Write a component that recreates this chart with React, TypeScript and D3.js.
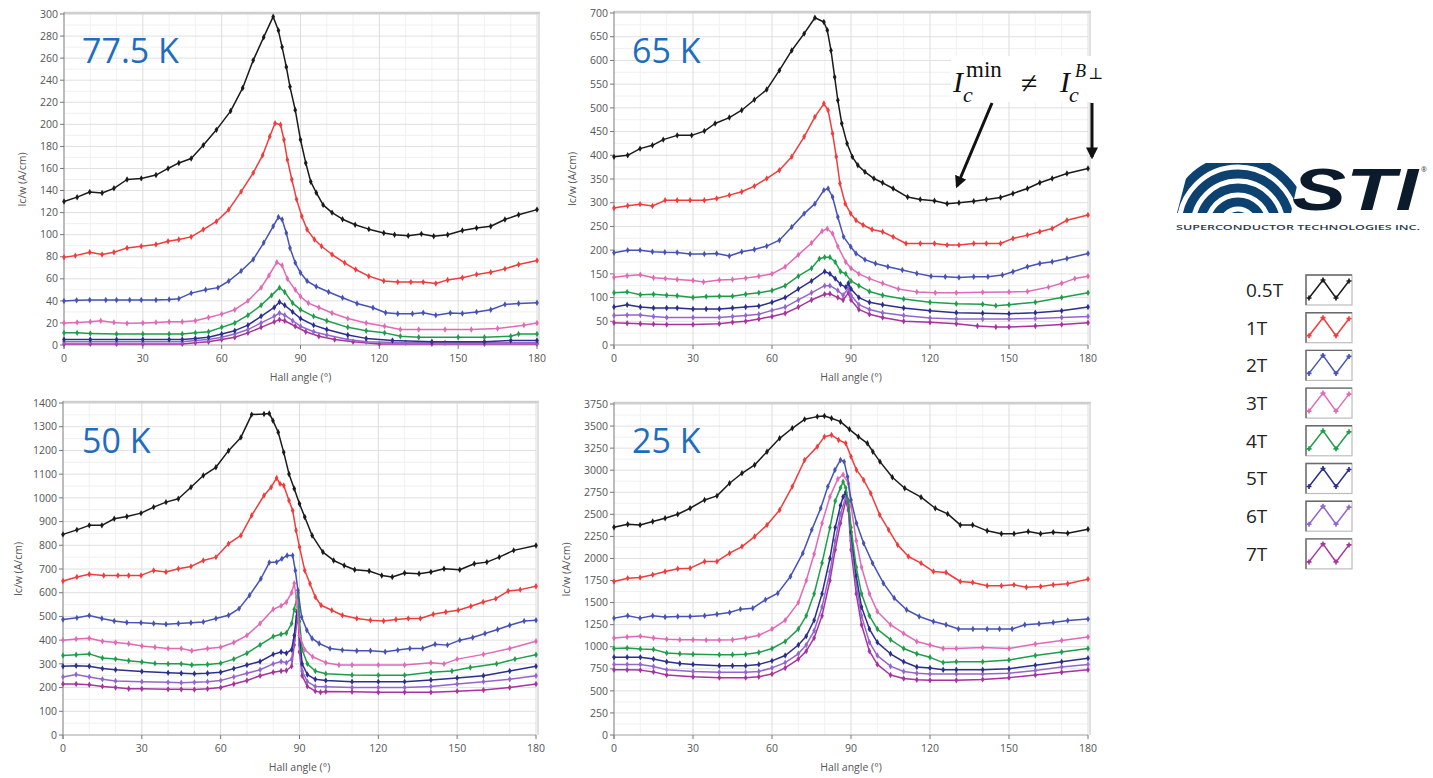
import React from 'react';
import * as d3 from 'd3';

type Pt = [number, number];

const FIELDS = ['0.5T', '1T', '2T', '3T', '4T', '5T', '6T', '7T'];
const COLORS = ['#1a1a1a', '#f03c3c', '#4652b4', '#e06ab6', '#1f9e4a', '#2c2f8c', '#9466cc', '#a8329e'];
const X_TICKS = [0, 30, 60, 90, 120, 150, 180];
const TITLES = ['77.5 K', '65 K', '50 K', '25 K'];
const Y_MAX = [300, 700, 1400, 3750];
const Y_STEP = [20, 50, 100, 250];

// ---------- 77.5 K ----------
const K77_05: Pt[] = [[0,130],[5,134],[9.8,138.7],[14.5,137.8],[19,142],[24,150],[29.4,151],[35,154],[39.6,160],[43.7,165],[48.4,169],[53,181],[58,195],[63.4,212],[68,233],[72,258],[76,279],[79.6,297.6],[81.6,285],[83,270],[84.6,252],[86,234],[88,213],[90,186],[92,165],[93.9,148],[96,138],[98.6,127],[102,120],[106,114],[110.8,109],[116,105],[121.7,101.6],[125.8,100],[131,99],[136,100.7],[140.7,98.6],[146,100],[151.6,103.7],[157,106],[162.4,107.6],[167.8,113.7],[173,118],[180,122.7]];
const K77_1: Pt[] = [[0,79.6],[4.3,81],[9.8,84],[14.5,82],[19,84],[24,88],[29.4,89.5],[35,91],[39.6,94],[43.7,95.6],[48.4,98],[53,104.6],[58,112],[62.7,122.7],[67.4,139],[72,156],[75.6,172],[78.3,189],[80.3,201],[82.4,199.6],[83.7,186],[85,168],[86.7,150],[88.5,132],[90.5,116.7],[92.5,104.6],[95.3,95.6],[98,89.5],[102,82],[106.8,74.5],[111,68.4],[116,62.4],[121.7,58],[127,57],[132,57],[136.7,57],[141.5,55.8],[146,59],[151.6,61],[157,64],[162.4,66],[167.8,69],[173,73],[180,76.6]];
const K77_2: Pt[] = [[0,39.8],[4.8,40.5],[9.8,40.7],[15.9,40.7],[20,40.7],[25,40.7],[29.4,40.7],[35,40.7],[40,41.3],[43.7,42],[48.4,47],[53.9,50],[58.6,52],[62.7,58],[67.4,67],[72,77.5],[76,92.6],[79.6,107.6],[81.6,116],[83,113.7],[84.6,101.6],[86,88],[88,74.5],[90,65.4],[92.5,58],[96,53],[100.7,48],[106,42.8],[111.5,37.7],[117.6,33.8],[122.4,29.2],[127,28.3],[132.6,28.3],[136.7,29.2],[141.5,27],[147,29],[151.6,28.6],[157,30],[162.4,32],[167.8,36.8],[173,37.7],[180,38.3]];
const K77_3: Pt[] = [[0,20],[5,20.5],[10,21],[14,22],[19,20.5],[24,19.6],[30,20],[35,20.5],[40,21],[45,21],[50,22],[55,25],[60,28],[65,32],[70,40],[75,52],[78,63],[81,75],[83,72],[85,60],[88,50],[90,44],[93,38],[97,34],[102,29],[108,24],[115,20],[122,17],[128,14],[135,14],[145,14],[155,14],[165,15],[175,18],[180,20]];
const K77_4: Pt[] = [[0,11],[5,11],[10,10.5],[20,10],[30,10],[40,10],[45,10],[50,11],[55,12],[60,16],[65,20],[70,27],[75,36],[79,45],[82,52],[84,48],[87,38],[90,32],[95,26],[100,22],[108,16],[115,13],[122,11],[128,8],[135,7],[150,7],[160,7],[170,8],[173,10],[180,10]];
const K77_5: Pt[] = [[0,5],[10,5],[20,5],[30,5],[40,5],[45,5],[50,6],[55,7],[60,10],[65,13],[70,18],[75,26],[80,34],[82,39],[84,36],[87,30],[90,24],[95,18],[100,14],[108,9],[115,6],[125,4],[140,3],[160,3],[170,4],[180,4]];
const K77_6: Pt[] = [[0,3],[10,3],[20,3],[30,3],[45,3],[50,4],[55,5],[60,7],[65,10],[70,14],[75,20],[80,26],[82,29],[84,27],[87,22],[90,17],[95,12],[100,9],[108,5],[115,3],[130,2],[145,2],[160,2],[180,2]];
const K77_7: Pt[] = [[0,1],[10,1],[20,1],[30,1],[45,1],[50,2],[55,3],[60,5],[65,7],[70,11],[75,16],[80,21],[82,23],[84,22],[88,17],[92,12],[97,8],[103,5],[110,3],[120,1],[140,1],[160,1],[180,1]];

// ---------- 65 K ----------
const K65_05: Pt[] = [[0,396.7],[5.2,400],[9.9,414],[14.6,421],[18.7,433],[24,442],[29.5,442],[34.3,451],[38.4,467],[43.8,479.5],[48.5,495],[53.3,517],[58,538.5],[62.8,579],[67.5,621],[72.2,656.5],[76.3,690],[79.7,681],[81,663.5],[82.4,621],[83.8,565],[85,516],[86.5,467],[88.5,425],[90.5,396.7],[92.6,379],[95.3,365],[98.7,351],[102,342],[106,330],[111.5,312],[116.3,307],[121.7,304],[126.5,298],[131,300],[136.6,303],[141.4,307],[146.8,311],[151.5,319.5],[157,330],[161.7,342],[166.4,351],[172,361.6],[180,372]];
const K65_1: Pt[] = [[0,289],[5.2,293.5],[9.9,297],[14.6,293],[19.4,305],[24,305],[28.9,305],[34.3,305],[39,309],[43.8,316],[48.5,323],[53.3,335],[58,351],[62.8,368.6],[67.5,397],[72.2,439],[76.3,481],[79.7,509],[81.3,495],[83,446],[84.4,397],[85.8,340.5],[87.8,298],[89.9,277],[91.9,263],[94.6,253],[98,243.6],[102,238.7],[106,228],[110.9,214],[116.3,214],[121.7,214],[126.5,210.6],[131,210.6],[136.6,214],[141.4,214],[146.8,214],[151.5,224.7],[157,231.7],[161.7,238.7],[166.4,245.7],[172,263],[180,274]];
const K65_2: Pt[] = [[0,194.5],[5.2,200],[9.9,200],[14.6,196.6],[19.3,195.5],[24,195],[28.9,191.7],[34.3,191.7],[39,193],[43.8,187.5],[48.5,196.6],[53.3,201.5],[58,208.5],[62.8,221],[67.5,249],[72.2,277],[76.3,298],[79.7,326.5],[81.3,330],[83,312],[85,270],[87.2,228],[89.9,207],[91.9,193],[95.3,180],[99.3,172],[104,165],[109.5,158],[115,151],[120.4,145],[125.8,144],[131,142.5],[136.6,144],[142,144],[147.5,147.4],[151.5,154.5],[157,165],[161.7,172],[166.4,175.5],[172,182.5],[180,193]];
const K65_3: Pt[] = [[0,143],[5,146],[10,148],[15,142],[19.5,140],[24,138],[30,136],[34,133],[40,137],[45,138],[50,141],[55,145],[60,150],[65,165],[70,190],[75,215],[79,240],[81,245],[83,235],[85,208],[88,175],[90,162],[93,150],[97,140],[102,130],[108,118],[115,112],[122,110],[130,110],[140,111],[150,112],[157,113],[165,122],[170,130],[175,140],[180,145]];
const K65_4: Pt[] = [[0,110],[5,112],[10,106],[15,107],[20,105],[24,104],[30,100],[35,102],[40,103],[45,103],[50,107],[55,110],[60,115],[65,125],[70,145],[75,162],[78,182],[80,185],[82,185],[84,175],[86,155],[88,150],[90,135],[93,125],[97,113],[102,105],[110,97],[120,90],[130,87],[140,86],[145,83],[150,85],[160,90],[170,100],[180,110]];
const K65_5: Pt[] = [[0,80],[5,85],[10,80],[15,78],[20,78],[24,78],[30,76],[35,76],[40,76],[45,78],[50,80],[55,82],[60,90],[65,100],[70,118],[75,135],[80,155],[82,150],[84,140],[86,128],[88,122],[89,130],[90,118],[93,100],[97,90],[102,85],[110,78],[120,72],[130,68],[140,67],[150,66],[160,68],[170,72],[180,80]];
const K65_6: Pt[] = [[0,62],[5,63],[10,63],[15,60],[20,58],[30,58],[40,58],[45,60],[50,62],[55,65],[60,73],[65,80],[70,95],[75,110],[80,125],[82,125],[85,115],[87,105],[89,120],[90,105],[93,85],[97,75],[102,68],[110,62],[120,57],[130,55],[140,55],[150,55],[160,56],[170,58],[180,60]];
const K65_7: Pt[] = [[0,47],[5,46],[10,45],[15,44],[20,43],[30,43],[40,45],[45,48],[50,50],[55,55],[60,60],[65,67],[70,80],[75,95],[80,107],[82,108],[85,100],[87,95],[89,110],[90,95],[93,75],[97,65],[102,58],[110,50],[120,48],[130,45],[138,40],[145,38],[150,38],[160,40],[170,43],[180,47]];

// ---------- 50 K ----------
const K50_05: Pt[] = [[0,846],[5.3,865],[10,884],[14.8,884],[19.5,912],[24.3,921.6],[29.7,935.6],[34.5,961],[39.2,982],[43.9,996],[48.7,1045],[53.4,1094],[58.2,1129],[63,1199],[67.7,1255],[71.8,1351],[76.5,1354],[78.5,1356],[79.9,1325.6],[81.9,1276.5],[84,1192],[86,1101],[88,1038],[90,975],[92,919],[94.8,841.6],[98.9,771.5],[103,736],[107,715],[111,697],[116.5,691.5],[121.3,673],[125.3,666],[130,683],[135.5,680],[140,687],[145,701],[151,697],[156.5,722],[161.3,729],[166,750],[171.5,778.5],[180,799.5]];
const K50_1: Pt[] = [[0,649],[5.3,666],[10,677.5],[15.5,673],[20.9,673],[25,673],[29.7,673],[34.5,694],[39.2,687],[43.9,701],[48.7,711],[53.4,736],[58.2,750],[63,806.6],[67.7,841.6],[71.8,925.8],[76.5,1010],[79.2,1045],[81.3,1084],[82.6,1059],[84,1052],[86,989],[87.4,947],[88.7,862.6],[90,792.5],[92,694],[94,638],[96,582],[98.2,547],[102.3,526],[106.3,505],[111.8,491],[117,484],[122,481],[126.7,487],[131.4,491],[136,491],[140.9,509],[145.7,519],[150.4,526],[155.2,543],[159.9,561],[164.7,575],[169.4,607],[174,613],[180,627]];
const K50_2: Pt[] = [[0,487],[5.3,494],[10,503.6],[14.8,491],[19.5,481],[24.3,474],[29.7,473],[34.5,470],[39.2,467],[43.9,470],[48.7,473],[53.4,477],[58.2,491],[63,505],[67,533],[71,589],[75.3,659],[78.5,727],[81.3,729],[83.3,743],[85.3,757],[87.4,757],[88.4,694],[89.4,610],[90.8,498],[92.8,442],[94.8,407],[97.5,386],[101.6,365],[106.3,358],[111.8,355],[117,355],[122.6,351],[127.4,358],[132,365],[136.9,365],[141.6,383],[146.3,379],[151,400],[155.9,411],[160.6,428],[165.4,445],[170,463],[175.5,481],[180,484]];
const K50_3: Pt[] = [[0,400],[5,405],[10,408],[15,395],[20,390],[25,385],[30,375],[35,370],[40,365],[45,365],[49,355],[55,365],[60,370],[65,390],[70,420],[75,470],[80,530],[83,545],[85,560],[87,600],[88,640],[89,560],[90,420],[92,360],[95,330],[100,305],[105,295],[110,295],[120,295],[130,295],[140,305],[145,300],[150,320],[160,340],[170,365],[180,395]];
const K50_4: Pt[] = [[0,335],[5,338],[10,342],[15,325],[20,320],[25,313],[30,308],[35,302],[40,300],[45,300],[49,295],[55,297],[60,303],[65,320],[70,345],[75,380],[80,415],[83,425],[85,430],[87,470],[88,530],[89,580],[89.5,600],[90,480],[91,360],[93,300],[96,270],[100,258],[110,253],[120,252],[130,252],[140,265],[148,270],[155,285],[165,300],[172,320],[180,338]];
const K50_5: Pt[] = [[0,290],[5,292],[10,290],[15,280],[20,275],[30,268],[40,262],[45,260],[50,258],[55,260],[60,265],[65,280],[70,295],[75,310],[80,340],[83,350],[85,345],[87,360],[88,420],[89,520],[89.5,540],[90,420],[91,300],[93,255],[96,235],[100,230],[110,225],[120,225],[130,225],[140,232],[150,240],[160,250],[170,270],[180,290]];
const K50_6: Pt[] = [[0,245],[5,255],[10,245],[15,235],[20,228],[30,225],[40,222],[45,220],[50,222],[55,225],[60,230],[65,245],[70,260],[75,275],[80,300],[83,310],[85,305],[87,320],[88,400],[89,500],[89.5,520],[90,380],[91,270],[93,225],[96,205],[100,203],[110,200],[120,200],[130,200],[140,205],[150,215],[160,225],[170,235],[180,250]];
const K50_7: Pt[] = [[0,215],[5,215],[10,212],[15,205],[20,200],[25,195],[30,195],[40,193],[45,193],[50,192],[55,195],[60,200],[65,215],[70,230],[75,250],[80,265],[83,270],[85,272],[87,290],[88,380],[89,480],[89.5,500],[90,350],[91,250],[93,205],[96,185],[98,180],[100,183],[110,182],[120,180],[130,180],[140,180],[150,185],[160,190],[170,200],[180,215]];

// ---------- 25 K ----------
const K25_05: Pt[] = [[0,2354],[5.2,2388],[9.9,2380],[14.7,2418],[19.4,2456],[24.2,2501],[28.9,2569],[34.4,2663],[39.1,2709],[43.9,2852],[48.6,2965],[53.4,3060],[58.1,3210],[62.9,3361],[67.7,3475],[72.4,3576],[77.2,3607],[79.9,3614],[82.6,3588],[86,3550],[89.4,3463],[92.8,3380],[96.2,3305],[98.3,3210],[101,3097],[105.7,2920],[110.4,2796],[116.6,2694],[122,2569],[126.7,2505],[131.5,2380],[136.2,2380],[141.7,2313],[147.1,2279],[151.9,2279],[157.3,2305],[162,2279],[166.8,2297],[172.3,2286],[180,2331]];
const K25_1: Pt[] = [[0,1739],[5.2,1777],[9.9,1784],[14.7,1815],[19.4,1852],[24.2,1883],[28.9,1890],[34.4,1966],[39.1,1966],[43.9,2060],[48.6,2135],[53.4,2248],[58.1,2380],[62.9,2550],[67.7,2814],[72.4,3116],[77.2,3267],[79.9,3380],[82.6,3399],[85.3,3343],[88,3305],[90,3154],[92.1,3003],[94.8,2890],[97.5,2739],[100.9,2494],[104.3,2324],[107.7,2154],[111.8,2022],[116.6,1947],[121.3,1852],[126.1,1841],[131.5,1739],[136.2,1728],[141.7,1690],[147.1,1690],[151.9,1701],[156.6,1675],[162,1683],[166.8,1701],[172.3,1713],[180,1766]];
const K25_2: Pt[] = [[0,1324],[5.2,1351],[9.9,1324],[14.7,1351],[19.4,1336],[24.2,1343],[28.9,1343],[34.4,1351],[39.1,1369],[43.9,1388],[48,1426],[52.7,1437],[57.5,1532],[62.2,1607],[67,1796],[71.7,2060],[75.1,2324],[78.5,2569],[81.2,2814],[83.9,3003],[86,3116],[87.4,3097],[88.7,2927],[90,2663],[92.1,2399],[94.8,2173],[98.2,1947],[102.3,1720],[106.4,1551],[111.1,1419],[115.9,1343],[121.3,1286],[126.1,1249],[130.8,1200],[136.3,1200],[141.7,1200],[146.4,1200],[151.2,1200],[156,1249],[161.4,1260],[166.8,1275],[172.3,1298],[180,1313]];
const K25_3: Pt[] = [[0,1100],[5,1110],[10,1120],[15,1100],[20,1085],[25,1080],[30,1080],[35,1075],[40,1075],[45,1080],[50,1100],[55,1130],[60,1200],[65,1300],[70,1500],[73,1750],[76,2050],[79,2400],[82,2700],[85,2900],[87,2950],[89,2850],[90,2600],[92,2200],[94,1900],[97,1600],[100,1400],[105,1250],[110,1150],[115,1060],[120,1020],[125,980],[130,980],[140,990],[150,980],[160,1030],[170,1070],[180,1110]];
const K25_4: Pt[] = [[0,980],[5,985],[10,975],[15,970],[20,930],[25,920],[30,915],[40,910],[45,910],[50,915],[55,935],[60,980],[65,1060],[70,1200],[73,1350],[76,1600],[79,1950],[82,2350],[84,2650],[86,2800],[87,2870],[88,2800],[89,2650],[90,2350],[92,1900],[94,1600],[97,1350],[100,1200],[105,1080],[110,980],[115,920],[120,880],[125,820],[130,830],[140,830],[150,850],[160,900],[170,940],[180,980]];
const K25_5: Pt[] = [[0,880],[5,880],[10,880],[15,860],[20,830],[25,810],[30,800],[40,785],[45,785],[50,785],[55,800],[60,840],[65,900],[70,1020],[73,1120],[76,1300],[79,1600],[82,2000],[84,2350],[86,2600],[87,2700],[88,2750],[89,2650],[90,2300],[92,1800],[94,1450],[97,1200],[100,1050],[105,920],[110,830],[115,770],[120,760],[125,740],[130,740],[140,740],[150,750],[160,790],[170,830],[180,870]];
const K25_6: Pt[] = [[0,800],[5,800],[10,800],[15,775],[20,740],[30,720],[40,710],[50,710],[55,720],[60,760],[65,820],[70,920],[73,1020],[76,1180],[79,1450],[82,1850],[84,2200],[86,2500],[88,2700],[89,2600],[90,2200],[92,1700],[94,1350],[97,1050],[100,900],[105,780],[110,720],[115,700],[120,690],[130,690],[140,690],[150,700],[160,730],[170,770],[180,800]];
const K25_7: Pt[] = [[0,740],[5,740],[10,735],[15,715],[20,680],[30,660],[40,650],[50,650],[55,660],[60,690],[65,760],[70,860],[73,950],[76,1100],[79,1350],[82,1750],[84,2100],[86,2400],[88,2650],[89,2550],[90,2100],[92,1600],[94,1250],[97,950],[100,800],[105,680],[110,640],[115,625],[120,620],[130,620],[140,630],[150,650],[160,680],[170,710],[180,740]];

const K77 = [K77_05, K77_1, K77_2, K77_3, K77_4, K77_5, K77_6, K77_7];
const K65 = [K65_05, K65_1, K65_2, K65_3, K65_4, K65_5, K65_6, K65_7];
const K50 = [K50_05, K50_1, K50_2, K50_3, K50_4, K50_5, K50_6, K50_7];
const K25 = [K25_05, K25_1, K25_2, K25_3, K25_4, K25_5, K25_6, K25_7];
const PANEL_DATA = [K77, K65, K50, K25];

// layout (pixels)
const LAYOUT = [
  { x0: 64, x1: 537, yTop: 14, yBot: 345, titleX: 82, titleY: 63, ylabX: 26 },
  { x0: 614, x1: 1088, yTop: 13, yBot: 345, titleX: 632, titleY: 63, ylabX: 576 },
  { x0: 63, x1: 536, yTop: 403, yBot: 735, titleX: 82, titleY: 453, ylabX: 22 },
  { x0: 614, x1: 1088, yTop: 404, yBot: 735, titleX: 632, titleY: 453, ylabX: 570 },
];

const FONT = '"Open Sans", "Noto Sans", sans-serif';

function Panel({ idx }: { idx: number }) {
  const L = LAYOUT[idx];
  const yMax = Y_MAX[idx];
  const step = Y_STEP[idx];
  const x = d3.scaleLinear().domain([0, 180]).range([L.x0, L.x1]);
  const y = d3.scaleLinear().domain([0, yMax]).range([L.yBot, L.yTop]);
  const yTicks = d3.range(0, yMax + 0.001, step);
  const yMinor = d3.range(step / 2, yMax, step);
  const xMinor = d3.range(0, 181, 10).filter((v) => v % 30 !== 0);
  const line = d3.line<Pt>().x((d) => x(d[0])).y((d) => y(d[1]));
  const sym = d3.symbol().type(d3.symbolDiamond).size(12)();
  const data = PANEL_DATA[idx];
  const cx = (L.x0 + L.x1) / 2;
  const cy = (L.yTop + L.yBot) / 2;
  return (
    <g>
      <rect x={L.x0} y={L.yTop} width={L.x1 - L.x0 + 2} height={L.yBot - L.yTop} fill="#fff" />
      {yMinor.map((v) => (
        <line key={'ym' + v} x1={L.x0} x2={L.x1} y1={y(v)} y2={y(v)} stroke="#f0f0f0" strokeWidth={1} />
      ))}
      {xMinor.map((v) => (
        <line key={'xm' + v} x1={x(v)} x2={x(v)} y1={L.yTop} y2={L.yBot} stroke="#f2f2f2" strokeWidth={1} />
      ))}
      {yTicks.map((v) => (
        <line key={'yg' + v} x1={L.x0} x2={L.x1} y1={y(v)} y2={y(v)} stroke="#e0e0e0" strokeWidth={1} />
      ))}
      {X_TICKS.map((v) => (
        <line key={'xg' + v} x1={x(v)} x2={x(v)} y1={L.yTop} y2={L.yBot} stroke="#dddddd" strokeWidth={1} />
      ))}
      {/* frame */}
      <line x1={L.x0} x2={L.x1 + 3} y1={L.yTop - 1} y2={L.yTop - 1} stroke="#cfcfcf" strokeWidth={2.5} />
      <line x1={L.x1 + 2} x2={L.x1 + 2} y1={L.yTop - 1} y2={L.yBot} stroke="#d8d8d8" strokeWidth={1.5} />
      {/* axes */}
      <line x1={L.x0} x2={L.x0} y1={L.yTop - 2} y2={L.yBot + 4} stroke="#8a8a8a" strokeWidth={1} />
      <line x1={L.x0} x2={L.x1} y1={L.yBot} y2={L.yBot} stroke="#b0b0b0" strokeWidth={1} />
      {yTicks.map((v) => (
        <g key={'yt' + v}>
          <line x1={L.x0 - 4} x2={L.x0} y1={y(v)} y2={y(v)} stroke="#777" strokeWidth={1} />
          <text x={L.x0 - 6} y={y(v)} dy="0.35em" textAnchor="end" fontSize={10.5} fill="#555" fontFamily={FONT}>
            {v}
          </text>
        </g>
      ))}
      {X_TICKS.map((v) => (
        <g key={'xt' + v}>
          <line x1={x(v)} x2={x(v)} y1={L.yBot} y2={L.yBot + 4} stroke="#777" strokeWidth={1} />
          <text x={x(v)} y={L.yBot + 17} textAnchor="middle" fontSize={10.5} fill="#555" fontFamily={FONT}>
            {v}
          </text>
        </g>
      ))}
      <text x={cx} y={L.yBot + 36} textAnchor="middle" fontSize={10.5} fill="#555" fontFamily={FONT}>
        Hall angle (°)
      </text>
      <text
        transform={`translate(${L.ylabX},${cy}) rotate(-90)`}
        textAnchor="middle"
        fontSize={10.5}
        fill="#555"
        fontFamily={FONT}
      >
        Ic/w (A/cm)
      </text>
      {/* series, drawn from lowest to highest so black is on top */}
      {data
        .map((s, i) => ({ s, i }))
        .reverse()
        .map(({ s, i }) => (
          <g key={'s' + i}>
            <path d={line(s) || ''} fill="none" stroke={COLORS[i]} strokeWidth={1.5} strokeLinejoin="round" />
            {s.map((p, j) => (
              <path key={j} d={sym || ''} transform={`translate(${x(p[0])},${y(p[1])})`} fill={COLORS[i]} />
            ))}
          </g>
        ))}
      <text x={L.titleX} y={L.titleY} fontSize={34} fill="#1f6dbd" fontFamily={FONT}>
        {TITLES[idx]}
      </text>
    </g>
  );
}

function Legend() {
  const bx = 1306;
  const by0 = 275;
  const dy = 37.7;
  const w = 46;
  const h = 30;
  const zig: Pt[] = [[3, 23], [17, 5], [30, 23], [43, 6]];
  const sym = d3.symbol().type(d3.symbolCross).size(14)();
  return (
    <g>
      {FIELDS.map((f, i) => {
        const by = by0 + i * dy;
        const pts = zig.map((p) => [bx + p[0], by + p[1]] as Pt);
        return (
          <g key={f}>
            <text x={1246} y={by + h / 2} dy="0.36em" fontSize={19} fill="#222" fontFamily={FONT}>
              {f}
            </text>
            <rect x={bx} y={by} width={w} height={h} fill="#fff" stroke="#bdbdbd" strokeWidth={1.2} />
            <polyline points={`${bx},${by + h} ${bx},${by} ${bx + w},${by}`} fill="none" stroke="#6a6a6a" strokeWidth={1.4} />
            <polyline points={pts.map((p) => p.join(',')).join(' ')} fill="none" stroke={COLORS[i]} strokeWidth={1.5} />
            {pts.map((p, j) => (
              <path key={j} d={sym || ''} transform={`translate(${p[0]},${p[1]})`} fill={COLORS[i]} />
            ))}
          </g>
        );
      })}
    </g>
  );
}

function Logo() {
  const radii = [10, 24, 38, 52, 66];
  return (
    <g>
      <defs>
        <clipPath id="logoClip">
          <polygon points="1190,163 1302,163 1291,213 1177,213" />
        </clipPath>
      </defs>
      <g clipPath="url(#logoClip)">
        {radii.map((r) => (
          <circle key={r} cx={1238} cy={226} r={r} fill="none" stroke="#0d4270" strokeWidth={9} />
        ))}
      </g>
      <text
        x={1292}
        y={210}
        fontSize={60}
        fontWeight={900}
        fontStyle="italic"
        fill="#0c1b2c"
        fontFamily='"Liberation Sans", Arial, sans-serif'
        textLength={126}
        lengthAdjust="spacingAndGlyphs"
      >
        STI
      </text>
      <text x={1421} y={172} fontSize={7} fill="#333" fontFamily={FONT}>
        ®
      </text>
      <text
        x={1176}
        y={230}
        fontSize={7.4}
        fontWeight={600}
        fill="#2a3a4c"
        fontFamily={FONT}
        textLength={244}
        lengthAdjust="spacingAndGlyphs"
      >
        SUPERCONDUCTOR TECHNOLOGIES INC.
      </text>
    </g>
  );
}

function Annotation() {
  const serif = '"Liberation Serif", "DejaVu Serif", serif';
  return (
    <g>
      <rect x={951} y={56} width={152} height={46} fill="#fff" />
      <text x={953} y={92} fontSize={30} fontStyle="italic" fontFamily={serif} fill="#111">I</text>
      <text x={963} y={102} fontSize={22} fontStyle="italic" fontFamily={serif} fill="#111">c</text>
      <text x={966} y={77} fontSize={23} fontFamily={serif} fill="#111">min</text>
      <text x={1021} y={93} fontSize={30} fontFamily={serif} fill="#111">≠</text>
      <text x={1060} y={92} fontSize={30} fontStyle="italic" fontFamily={serif} fill="#111">I</text>
      <text x={1069} y={102} fontSize={22} fontStyle="italic" fontFamily={serif} fill="#111">c</text>
      <text x={1075} y={77} fontSize={18} fontStyle="italic" fontFamily={serif} fill="#111">B</text>
      <text x={1088} y={79} fontSize={16} fontFamily={serif} fill="#111">⊥</text>
      <defs>
        <marker id="arrowHead" viewBox="0 0 10 10" refX="8" refY="5" markerWidth="4" markerHeight="4" orient="auto">
          <path d="M0,0 L10,5 L0,10 z" fill="#111" />
        </marker>
      </defs>
      <line x1={992} y1={103} x2={957} y2={186} stroke="#111" strokeWidth={3} markerEnd="url(#arrowHead)" />
      <line x1={1092} y1={103} x2={1092} y2={157} stroke="#111" strokeWidth={3} markerEnd="url(#arrowHead)" />
    </g>
  );
}

export default function App() {
  return (
    <svg
      width={1433}
      height={778}
      style={{ position: 'absolute', left: 0, top: 0, background: '#fff' }}
      xmlns="http://www.w3.org/2000/svg"
    >
      <rect x={0} y={0} width={1433} height={778} fill="#fff" />
      {[0, 1, 2, 3].map((i) => (
        <Panel key={i} idx={i} />
      ))}
      <Annotation />
      <Logo />
      <Legend />
    </svg>
  );
}
